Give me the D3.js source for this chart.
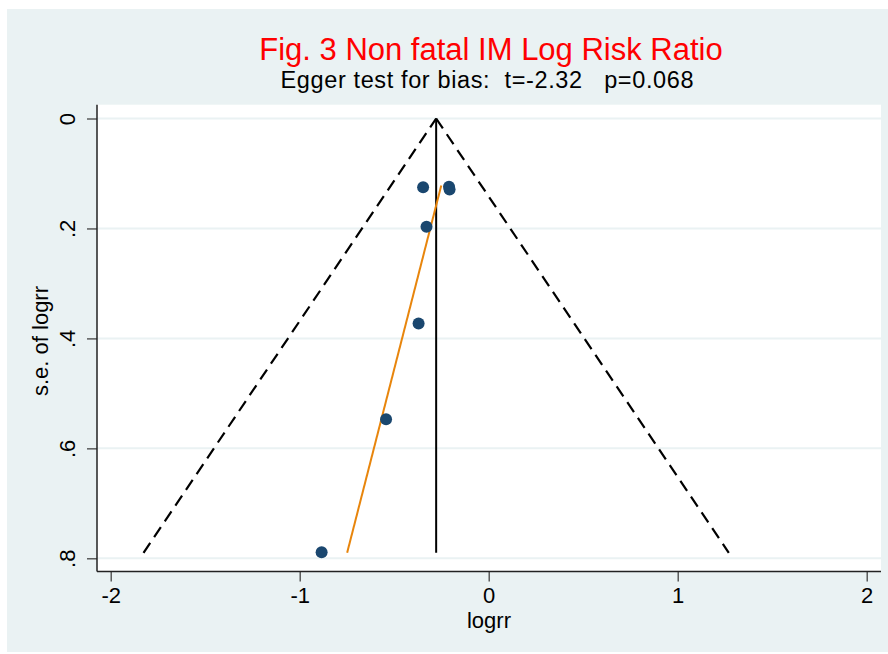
<!DOCTYPE html>
<html>
<head>
<meta charset="utf-8">
<script src="https://cdn.jsdelivr.net/npm/d3@7"></script>
<style>
  body { margin: 0; background: #fff; }
  svg text { font-family: "Liberation Sans", Arial, sans-serif; white-space: pre; }
</style>
</head>
<body>
<div id="chart"></div>
<script>
// study estimates
var logrr = [-0.347, -0.210, -0.207, -0.329, -0.371, -0.543, -0.884];
var se_logrr = [0.125, 0.124, 0.129, 0.197, 0.373, 0.547, 0.789];

var pooled = -0.278;          // fixed effect estimate (vertical line)
var se_max = 0.790;           // bottom of the pseudo 95% limits
var egger_se = [0.122, 0.790];
var egger_logrr = [-0.251, -0.749];

var x_ticks = [-2, -1, 0, 1, 2];
var x_tick_labels = ['-2', '-1', '0', '1', '2'];
var y_ticks = [0, 0.2, 0.4, 0.6, 0.8];
var y_tick_labels = ['0', '.2', '.4', '.6', '.8'];

var title_text = 'Fig. 3 Non fatal IM Log Risk Ratio';
var subtitle_text = 'Egger test for bias:  t=-2.32   p=0.068';

var width = 888, height = 654;
var plot = { left: 97, right: 881, top: 104.7, bottom: 571.5 };

var bg_color = '#eaf2f3';
var dot_color = '#1a476f';
var egger_color = '#e8850c';

var svg = d3.select('#chart')
    .append('svg')
    .attr('width', width)
    .attr('height', height);

// outer graph region
svg.append('rect')
    .attr('x', 7)
    .attr('y', 9)
    .attr('width', width - 7)
    .attr('height', 643)
    .attr('fill', bg_color);

var x = d3.scaleLinear()
    .domain([-2, 2])
    .range([110.7, 866.7]);

var y = d3.scaleLinear()
    .domain([0, 0.8])
    .range([118.5, 558.3]);

// plot region
svg.append('rect')
    .attr('x', plot.left)
    .attr('y', plot.top)
    .attr('width', plot.right - plot.left)
    .attr('height', plot.bottom - plot.top)
    .attr('fill', '#fff');

// horizontal grid
svg.append('g')
    .selectAll('line').data(y_ticks).enter()
    .append('line')
    .attr('x1', plot.left)
    .attr('x2', plot.right)
    .attr('y1', function(d) { return y(d); })
    .attr('y2', function(d) { return y(d); })
    .attr('stroke', bg_color)
    .attr('stroke-width', 2);

// y axis
var yaxis = svg.append('g')
    .attr('transform', 'translate(' + plot.left + ',0)')
    .call(d3.axisLeft(y).tickValues(y_ticks).tickSize(10).tickPadding(10)
        .tickFormat(function(d, i) { return y_tick_labels[i]; }));
yaxis.select('.domain').remove();
yaxis.selectAll('.tick line').attr('stroke', '#444').attr('stroke-width', 1.3);
yaxis.selectAll('.tick text')
    .attr('x', 0).attr('y', 0).attr('dy', null)
    .attr('transform', 'translate(-22,0) rotate(-90)')
    .attr('text-anchor', 'middle')
    .attr('fill', '#000')
    .style('font-size', '22px');

// x axis
var xaxis = svg.append('g')
    .attr('transform', 'translate(0,' + plot.bottom + ')')
    .call(d3.axisBottom(x).tickValues(x_ticks).tickSize(10).tickPadding(6)
        .tickFormat(function(d, i) { return x_tick_labels[i]; }));
xaxis.select('.domain').remove();
xaxis.selectAll('.tick line').attr('stroke', '#444').attr('stroke-width', 1.3);
xaxis.selectAll('.tick text')
    .attr('fill', '#000')
    .style('font-size', '22px');

// axis lines
svg.append('line')
    .attr('x1', plot.left).attr('x2', plot.left)
    .attr('y1', plot.top).attr('y2', plot.bottom)
    .attr('stroke', '#222').attr('stroke-width', 1.5);
svg.append('line')
    .attr('x1', plot.left).attr('x2', plot.right)
    .attr('y1', plot.bottom).attr('y2', plot.bottom)
    .attr('stroke', '#222').attr('stroke-width', 1.5);

// pseudo 95% confidence limits
var funnel = [
    [[pooled - 1.96 * se_max, se_max], [pooled, 0]],
    [[pooled, 0], [pooled + 1.96 * se_max, se_max]]
];
var line = d3.line()
    .x(function(d) { return x(d[0]); })
    .y(function(d) { return y(d[1]); });

svg.append('g')
    .selectAll('path').data(funnel).enter()
    .append('path')
    .attr('d', line)
    .attr('fill', 'none')
    .attr('stroke', '#000')
    .attr('stroke-width', 2.2)
    .attr('stroke-dasharray', '12,7');

// pooled estimate
svg.append('path')
    .datum([[pooled, 0], [pooled, se_max]])
    .attr('d', line)
    .attr('fill', 'none')
    .attr('stroke', '#000')
    .attr('stroke-width', 2);

// egger regression line
svg.append('path')
    .datum(egger_se.map(function(s, i) { return [egger_logrr[i], s]; }))
    .attr('d', line)
    .attr('fill', 'none')
    .attr('stroke', egger_color)
    .attr('stroke-width', 2);

// studies
svg.append('g')
    .selectAll('circle').data(logrr).enter()
    .append('circle')
    .attr('cx', function(d) { return x(d); })
    .attr('cy', function(d, i) { return y(se_logrr[i]); })
    .attr('r', 6)
    .attr('fill', dot_color);

// titles
svg.append('text')
    .attr('x', 491)
    .attr('y', 60)
    .attr('text-anchor', 'middle')
    .attr('fill', '#ff0000')
    .style('font-size', '31px')
    .text(title_text);

svg.append('text')
    .attr('x', 487)
    .attr('y', 88)
    .attr('text-anchor', 'middle')
    .attr('fill', '#000')
    .attr('textLength', 413)
    .attr('lengthAdjust', 'spacing')
    .style('font-size', '23.5px')
    .text(subtitle_text);

svg.append('text')
    .attr('transform', 'translate(48,341) rotate(-90)')
    .attr('text-anchor', 'middle')
    .attr('fill', '#000')
    .style('font-size', '22px')
    .text('s.e. of logrr');

svg.append('text')
    .attr('x', 489)
    .attr('y', 628)
    .attr('text-anchor', 'middle')
    .attr('fill', '#000')
    .style('font-size', '22px')
    .text('logrr');
</script>
</body>
</html>
